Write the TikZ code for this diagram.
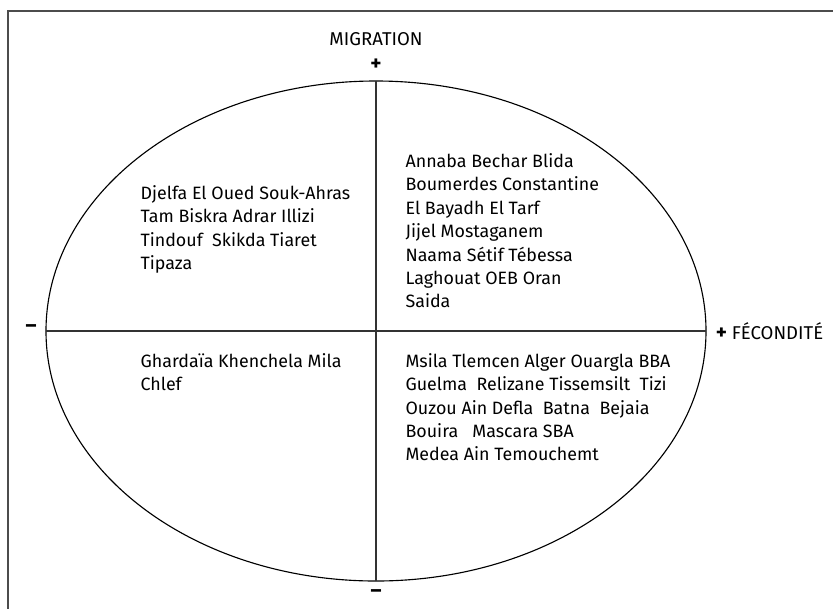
\documentclass[tikz,border=0pt]{standalone}
\usepackage{fontspec}
\setmainfont{Fira Sans}

\begin{document}
\begin{tikzpicture}[line width=0.8pt,
    names/.style={anchor=base west,align=left,inner sep=0pt,font=\fontsize{12.7}{16.7}\selectfont},
    word/.style={inner sep=0pt,font=\fontsize{13.2}{15}\selectfont},
    sign/.style={inner sep=0pt,font=\fontsize{15}{15}\selectfont\bfseries}]
    \useasboundingbox (-9.4,-6.925) rectangle (11.425,8.275);
    \draw[black!70,line width=1pt] (-9.2,-7) -- (-9.2,8) -- (11.5,8);
    \draw (0,0) ellipse (8.25cm and 6.25cm);
    \coordinate (top) at (0,6.25);
    \coordinate (bot) at (0,-6.25);
    \coordinate (lft) at (-8.25,0);
    \coordinate (rgt) at (8.25,0);
    \draw[black!80] (top) -- (bot);
    \draw[black!80] (lft) -- (rgt);
    \node[word,anchor=base] (migration) at (0,7.15) {MIGRATION};
    \node[sign] (plustop) at (0,6.65) {+};
    \node[sign] (minusbot) at (0,-6.575) {–};
    \node[sign] (minuslft) at (-8.625,0.05) {–};
    \node[word,anchor=base west] (fecondite) at (8.48,-0.2) {{\fontsize{15}{15}\selectfont\bfseries +} FÉCONDITÉ};
    \node[names] (nw) at (-5.9,1.538) {Djelfa El Oued Souk-Ahras\\Tam Biskra Adrar Illizi\\Tindouf~ Skikda Tiaret\\Tipaza};
    \node[names] (ne) at (0.725,0.576) {Annaba Bechar Blida\\Boumerdes Constantine\\El Bayadh El Tarf\\Jijel Mostaganem\\Naama Sétif Tébessa\\Laghouat OEB Oran\\Saida};
    \node[names] (sw) at (-5.9,-1.487) {Ghardaïa Khenchela Mila\\Chlef};
    \node[names] (se) at (0.725,-3.249) {Msila Tlemcen Alger Ouargla BBA\\Guelma~ Relizane Tissemsilt~ Tizi\\Ouzou Ain Defla~ Batna~ Bejaia\\Bouira~~ Mascara SBA\\Medea Ain Temouchemt};
\end{tikzpicture}
\end{document}
